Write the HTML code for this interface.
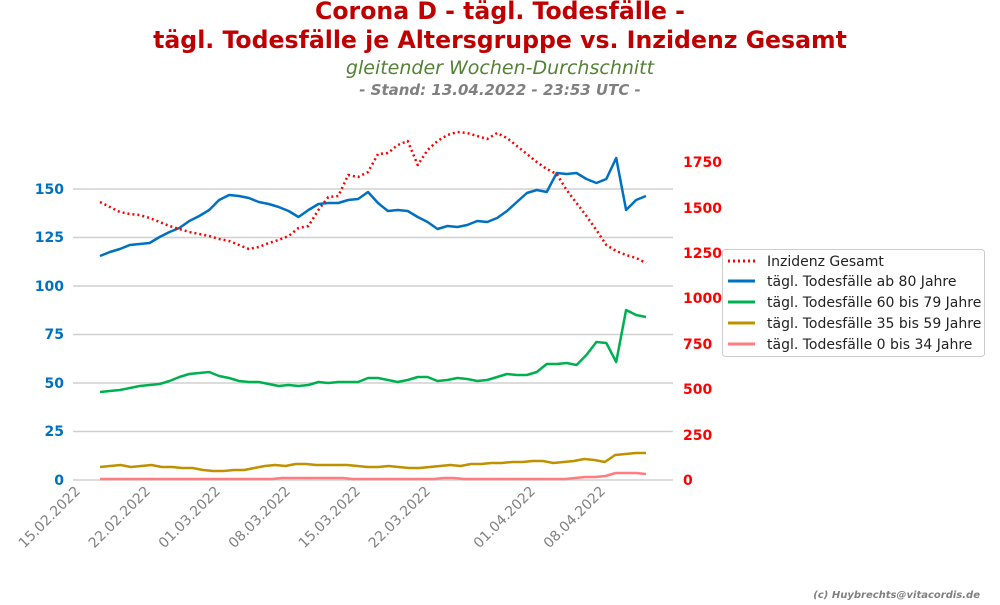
<!DOCTYPE html>
<html><head><meta charset="utf-8"><style>
body{margin:0;background:#fff;width:1000px;height:600px;overflow:hidden}
svg text{font-family:"DejaVu Sans","Liberation Sans",sans-serif}
</style></head><body>
<svg width="1000" height="600" viewBox="0 0 1000 600">
<text x="500" y="19" text-anchor="middle" font-size="23.6" font-weight="bold" fill="#c00000">Corona D - tägl. Todesfälle -</text>
<text x="500" y="48" text-anchor="middle" font-size="23.6" font-weight="bold" fill="#c00000">tägl. Todesfälle je Altersgruppe vs. Inzidenz Gesamt</text>
<text x="500" y="74" text-anchor="middle" font-size="19" font-style="italic" fill="#538135">gleitender Wochen-Durchschnitt</text>
<text x="500" y="95" text-anchor="middle" font-size="15" font-style="italic" font-weight="bold" fill="#808080">- Stand: 13.04.2022 - 23:53 UTC -</text>
<g stroke="#d0d0d0" stroke-width="1.5">
<line x1="73" x2="673" y1="189" y2="189"/><line x1="73" x2="673" y1="237.5" y2="237.5"/><line x1="73" x2="673" y1="286" y2="286"/><line x1="73" x2="673" y1="334.5" y2="334.5"/><line x1="73" x2="673" y1="383" y2="383"/><line x1="73" x2="673" y1="431.5" y2="431.5"/><line x1="73" x2="673" y1="480" y2="480"/>
</g>
<g font-size="14" font-weight="bold" fill="#0070c0" text-anchor="end">
<text x="64" y="194">150</text><text x="64" y="242">125</text><text x="64" y="291">100</text><text x="64" y="339">75</text><text x="64" y="388">50</text><text x="64" y="436">25</text><text x="64" y="485">0</text>
</g>
<g font-size="14" font-weight="bold" fill="#ff0000">
<text x="683" y="167">1750</text><text x="683" y="213">1500</text><text x="683" y="258">1250</text><text x="683" y="303">1000</text><text x="683" y="349">750</text><text x="683" y="394">500</text><text x="683" y="440">250</text><text x="683" y="485">0</text>
</g>
<g font-size="14" fill="#808080" text-anchor="end">
<text transform="translate(81,492) rotate(-45)">15.02.2022</text>
<text transform="translate(151,492) rotate(-45)">22.02.2022</text>
<text transform="translate(221,492) rotate(-45)">01.03.2022</text>
<text transform="translate(291,492) rotate(-45)">08.03.2022</text>
<text transform="translate(361,492) rotate(-45)">15.03.2022</text>
<text transform="translate(431,492) rotate(-45)">22.03.2022</text>
<text transform="translate(536,492) rotate(-45)">01.04.2022</text>
<text transform="translate(606,492) rotate(-45)">08.04.2022</text>
</g>
<g id="lines" fill="none" stroke-linejoin="round"></g>
<rect x="722.5" y="249.5" width="262" height="107" rx="3" fill="#fff" stroke="#ccc"/>
<g stroke-width="3">
<line x1="728" x2="755" y1="261" y2="261" stroke="#ff0000" stroke-dasharray="2,3"/>
<line x1="728" x2="755" y1="281" y2="281" stroke="#0070c0"/>
<line x1="728" x2="755" y1="302" y2="302" stroke="#00b050"/>
<line x1="728" x2="755" y1="323" y2="323" stroke="#bf9000"/>
<line x1="728" x2="755" y1="344" y2="344" stroke="#ff7c80"/>
</g>
<g font-size="14" fill="#222">
<text x="767" y="266">Inzidenz Gesamt</text>
<text x="767" y="286">tägl. Todesfälle ab 80 Jahre</text>
<text x="767" y="307">tägl. Todesfälle 60 bis 79 Jahre</text>
<text x="767" y="328">tägl. Todesfälle 35 bis 59 Jahre</text>
<text x="767" y="349">tägl. Todesfälle 0 bis 34 Jahre</text>
</g>
<text x="980" y="598" text-anchor="end" font-size="10" font-style="italic" font-weight="bold" fill="#808080">(c) Huybrechts@vitacordis.de</text>
</svg>
<script>
var red=[202,207,212,214,215,218,222,226,229,232,234,236,239,241,245,249,247,243,240,236,228,226,210,197,196,175,177,172,154,153,145,141,165,150,141,135,132,133,136,139,133,138,146,154,162,169,174,190,203,216,230,245,251,255,258,263];
var blue=[256,252,249,245,244,243,237,232,228,221,216,210,200,195,196,198,202,204,207,211,217,210,204,203,203,200,199,192,203,211,210,211,217,222,229,226,227,225,221,222,218,211,202,193,190,192,173,174,173,179,183,179,158,210,200,196];
var green=[392,391,390,388,386,385,384,381,377,374,373,372,376,378,381,382,382,384,386,385,386,385,382,383,382,382,382,378,378,380,382,380,377,377,381,380,378,379,381,380,377,374,375,375,372,364,364,363,365,355,342,343,362,310,315,317];
var gold=[467,466,465,467,466,465,467,467,468,468,470,471,471,470,470,468,466,465,466,464,464,465,465,465,465,466,467,467,466,467,468,468,467,466,465,466,464,464,463,463,462,462,461,461,463,462,461,459,460,462,455,454,453,453];
var pink=[479,479,479,479,479,479,479,479,479,479,479,479,479,479,479,479,479,479,478,478,478,478,478,478,478,479,479,479,479,479,479,479,479,479,478,478,479,479,479,479,479,479,479,479,479,479,479,478,477,477,476,473,473,473,474];
function pts(a){var n=a.length,s=[];for(var i=0;i<n;i++){s.push((100+i*(546/(n-1))).toFixed(1)+","+a[i]);}return s.join(" ");}
var g=document.getElementById("lines"),ns="http://www.w3.org/2000/svg";
[[pink,"#ff7c80",""],[gold,"#bf9000",""],[green,"#00b050",""],[blue,"#0070c0",""],[red,"#ff0000","2,3"]].forEach(function(d){var p=document.createElementNS(ns,"polyline");p.setAttribute("points",pts(d[0]));p.setAttribute("stroke",d[1]);p.setAttribute("stroke-width","2.5");if(d[2])p.setAttribute("stroke-dasharray",d[2]);g.appendChild(p);});
</script>
</body></html>
